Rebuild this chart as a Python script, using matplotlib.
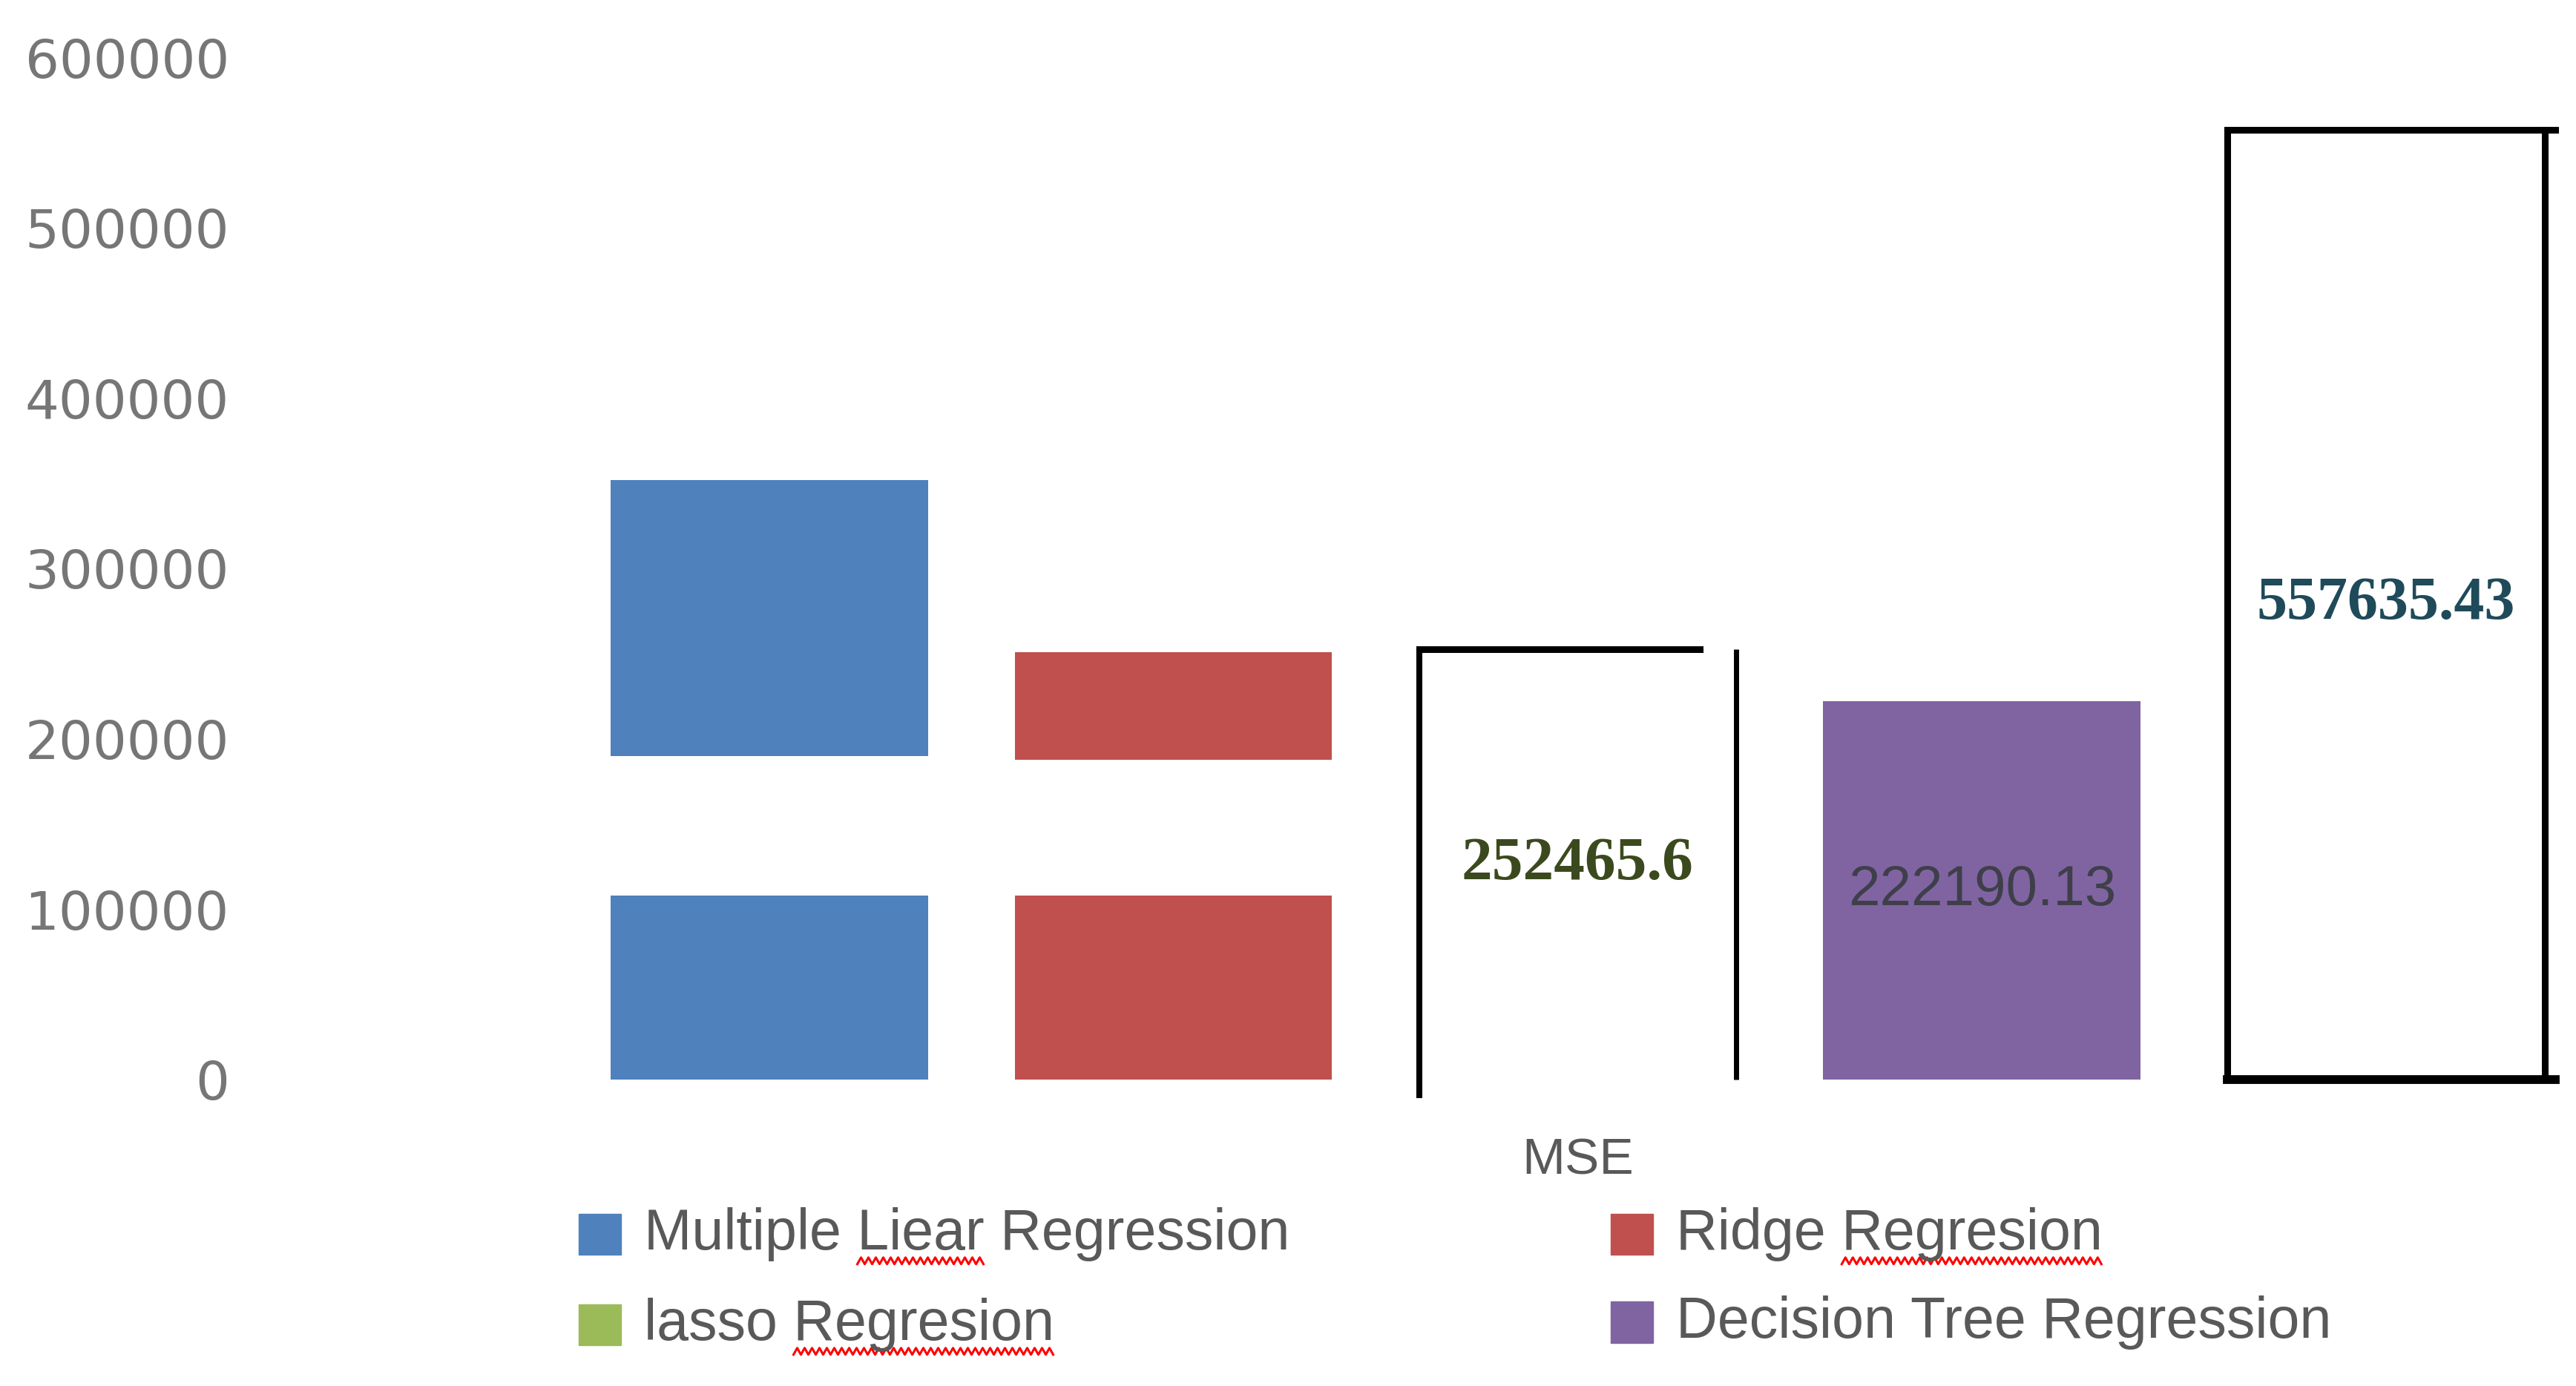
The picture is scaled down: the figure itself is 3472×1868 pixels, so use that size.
import numpy as np
import matplotlib
matplotlib.use('Agg')
import matplotlib.pyplot as plt
from matplotlib.patches import Rectangle
from matplotlib.lines import Line2D
from matplotlib.font_manager import FontProperties

# datos
categoria = 'MSE'
modelos = ['Multiple Liear Regression', 'Ridge Regresion', 'lasso Regresion', 'Decision Tree Regression']
colores = ['#4F81BD', '#C0504D', '#9BBB59', '#8064A2']
# barras partidas (azul y roja): tramo inferior y tramo superior
tramo_inf = [108000, 108000]
tramo_sup_base = [190000, 188000]
tramo_sup_tope = [352000, 251000]
lasso_mse = 252465.6
arbol_mse = 222190.13
otro_mse = 557635.43
yticks = [0, 100000, 200000, 300000, 400000, 500000, 600000]

fig = plt.figure(figsize=(34.73, 18.68), dpi=100)
ax = fig.add_axes([0.0957, 0.2210, 0.9043, 0.7375])
ancho = 0.785
x = np.arange(5)

# barras azul y roja (dos tramos cada una)
for i in range(2):
    ax.bar(x[i], tramo_inf[i], width=ancho, color=colores[i])
    ax.bar(x[i], tramo_sup_tope[i] - tramo_sup_base[i], bottom=tramo_sup_base[i],
           width=ancho, color=colores[i])

# caja abierta de lasso
izq = x[2] - ancho / 2
der = x[2] + ancho / 2
ax.plot([izq, izq], [-11000, lasso_mse], color='black', lw=5.8, solid_capstyle='butt', clip_on=False)
ax.plot([izq, der - 0.09], [lasso_mse, lasso_mse], color='black', lw=6.5, solid_capstyle='projecting', clip_on=False)
ax.plot([der, der], [0, lasso_mse], color='black', lw=5.0, solid_capstyle='butt', clip_on=False)
ax.text(x[2], lasso_mse / 2, '252465.6', ha='center', va='center', fontsize=60,
        fontweight='bold', family=['Liberation Serif', 'DejaVu Serif'], color='#3B4A1E')

# decision tree
ax.bar(x[3], arbol_mse, width=ancho, color=colores[3])
ax.text(x[3], arbol_mse / 2, '222190.13', ha='center', va='center', fontsize=55,
        family=['Liberation Sans', 'DejaVu Sans'], color='#3f3f4a')

# caja cerrada
ax.bar(x[4], otro_mse, width=ancho, fill=False, edgecolor='black', linewidth=6.5, clip_on=False)
izq4 = x[4] - ancho / 2
der4 = x[4] + ancho / 2
ax.plot([der4, der4 + 0.025], [otro_mse, otro_mse], color='black', lw=6.5, clip_on=False)
ax.plot([izq4, der4 + 0.025], [0, 0], color='black', lw=8.5, clip_on=False)
ax.text(x[4], otro_mse / 2, '557635.43', ha='center', va='center', fontsize=59,
        fontweight='bold', family=['Liberation Serif', 'DejaVu Serif'], color='#1F4A5A')

ax.set_xlim(-1.2927, 4.4715)
ax.set_ylim(0, 600000)
ax.set_yticks(yticks)
ax.set_yticklabels([str(v) for v in yticks], fontsize=52, color='#767676', family='DejaVu Sans')
ax.set_xticks([2])
ax.set_xticklabels([categoria], fontsize=50, color='#595959', family=['Liberation Sans', 'DejaVu Sans'])
ax.tick_params(axis='y', length=0, pad=17)
ax.tick_params(axis='x', length=0, pad=56)
for s in ax.spines.values():
    s.set_visible(False)

# leyenda manual
fuente_ley = FontProperties(family=['Liberation Sans', 'DejaVu Sans'], size=55.5)
pos_ley = [(0.2245, 0.1096), (0.625, 0.1096), (0.2245, 0.0443), (0.625, 0.0460)]
textos = []
for (px, py), nombre, c in zip(pos_ley, modelos, colores):
    fig.patches.append(Rectangle((px, py - 0.0148), 0.0166, 0.0296, transform=fig.transFigure,
                                 color=c, figure=fig))
    t = fig.text(px + 0.0255, py, nombre, fontproperties=fuente_ley, color='#595959', va='center')
    textos.append(t)

# subrayado ondulado rojo (corrector ortografico)
fig.canvas.draw()
rend = fig.canvas.get_renderer()
subrayar = [(0, 'Multiple ', 'Liear'), (1, 'Ridge ', 'Regresion'), (2, 'lasso ', 'Regresion')]
for idx, prefijo, palabra in subrayar:
    bb = textos[idx].get_window_extent(rend)
    w0, _, _ = rend.get_text_width_height_descent(prefijo, fuente_ley, ismath=False)
    w1, _, _ = rend.get_text_width_height_descent(prefijo + palabra, fuente_ley, ismath=False)
    xs = np.arange(bb.x0 + w0, bb.x0 + w1, 5.0)
    ys = bb.y0 - 4 + np.where(np.arange(len(xs)) % 2 == 0, 0, 9)
    fig.lines.append(Line2D(xs, ys, color='#FF0000', lw=2.2, transform=None, figure=fig))

plt.savefig('out.png', dpi=100)
